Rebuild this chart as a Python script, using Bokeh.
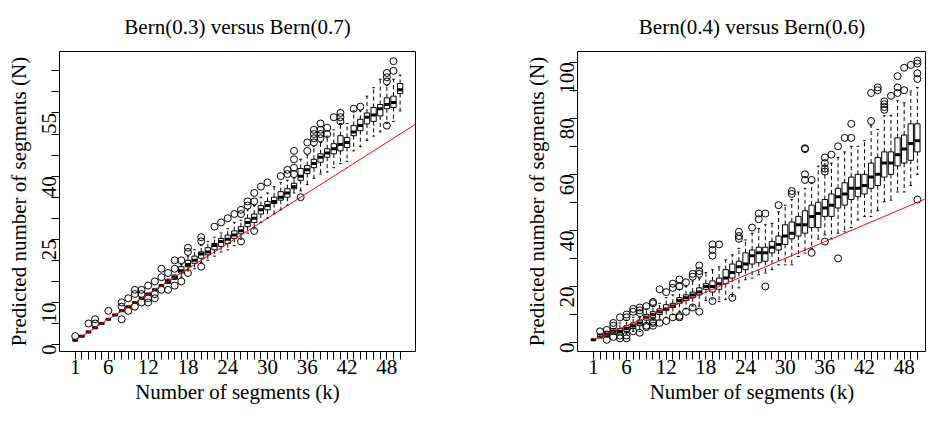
import math
import pandas as pd
from bokeh.plotting import figure
from bokeh.layouts import row
from bokeh.models import ColumnDataSource, FixedTicker, Range1d
from bokeh.transform import dodge
from bokeh.embed import file_html
from bokeh.resources import INLINE

# ---------------- data ----------------
k_values = list(range(1, 51))

# Panel 1: Bern(0.3) versus Bern(0.7)
left_title = "Bern(0.3) versus Bern(0.7)"
left_med = [1, 2, 3, 4, 5, 6, 7, 8, 9, 10, 11, 12, 13, 14, 15, 16, 17.5, 19, 20, 21.5,
            22, 23.5, 24.5, 25, 26, 27, 29, 30, 32, 33, 34, 35, 36, 37.5, 40, 41.5, 43, 44.5, 45.5, 46.5,
            47.5, 48, 50.5, 52, 54, 54.5, 56, 57, 57.5, 60.5]
left_q1 = [1, 2, 3, 4, 5, 6, 7, 8, 9, 10, 11, 12, 13, 14, 14.5, 15.5, 17, 18.5, 19.3, 20.5,
           21.3, 22.5, 23.3, 24, 25.2, 26.3, 28, 29, 31, 32, 33.5, 34.3, 35, 37, 39, 40.6, 42, 43.3, 44.5, 45.3,
           46, 46.8, 49.6, 50.8, 52.4, 53, 54.3, 56, 56.3, 59.6]
left_q3 = [1, 2, 3, 4, 5, 6, 7, 8, 9, 10, 11, 12, 13, 14, 15.5, 16.5, 18.5, 20, 21, 22,
           23, 24, 25.2, 26, 27, 28, 30, 31, 33, 34, 35, 36.3, 37, 38.3, 41.8, 42.5, 44, 45.3, 46.5, 47.7,
           49.6, 49.2, 52, 53.5, 55, 56.3, 57, 58.6, 59, 62]
left_lo = [1, 2, 3, 4, 5, 6, 7, 8, 9, 10, 11, 12, 13, 14, 14.5, 15.5, 16, 17.5, 18, 19.5,
           20, 21, 22, 22.5, 23.5, 25, 26.5, 27.5, 29, 30, 31, 32, 33, 36, 36.5, 38, 39.5, 40.5, 41, 42,
           43, 43.5, 46, 47, 48.5, 49.5, 50.5, 52.5, 53, 55.5]
left_hi = [1, 2, 3, 4, 5, 6, 7, 8, 9, 10, 11, 12, 13, 14, 15.5, 16.5, 19, 21, 22.5, 23.5,
           24.5, 25.5, 26.5, 27.5, 29, 29.5, 32, 33, 35, 36, 37.5, 38.5, 39, 39.5, 44, 45, 47, 48, 49.5, 51,
           52.5, 52.5, 55.5, 55.5, 59, 61, 63, 61.5, 63, 64]
left_out = [[2], [], [5], [5, 6], [], [8], [], [6, 9, 10], [8, 11], [9, 12, 13],
            [10, 12, 13], [10, 11, 14], [11, 12, 15], [13, 16, 18], [13, 17], [14, 18, 20], [15, 20], [17, 22, 23], [], [18.5, 24.5, 25.5],
            [], [28], [29], [30], [31], [24.5, 31, 32], [33, 34], [27, 34, 36], [37.5], [38.5],
            [], [40], [40.5, 41.5], [40.5, 42, 44, 46], [35], [46, 48], [48, 49, 50, 51], [49, 50, 51, 52.5], [50, 51.5], [54],
            [53, 54, 55], [], [56], [56.5], [], [], [], [52, 62.5, 63.5, 64.5], [65, 67.3], []]
left_yticks = [0, 5, 10, 15, 20, 25, 30, 35, 40, 45, 50, 55, 60, 65]
left_ylabels = [0, 10, 25, 40, 55]

# Panel 2: Bern(0.4) versus Bern(0.6)
right_title = "Bern(0.4) versus Bern(0.6)"
right_med = [1, 2, 3, 4, 4, 5, 6, 7, 9, 10, 11, 12, 13, 15, 16, 17, 18, 20, 20, 21,
             23, 25, 27, 28, 31, 32, 32, 34, 35, 38, 39, 42, 42, 45, 46, 48, 49, 52, 53, 55,
             55, 56, 59, 60, 64, 64, 67, 69, 71, 72]
right_q1 = [1, 2, 2, 3, 3, 4, 5, 6, 8, 9, 10, 11.5, 12.5, 14, 15, 16, 17, 19, 18, 19,
            21, 23, 25, 26, 28, 28.5, 29, 32, 33, 35, 37, 38, 39, 41, 41, 45, 45, 48, 49, 51,
            52, 53, 55, 56, 59, 60, 63, 64, 65, 68]
right_q3 = [1, 3, 4, 5, 5, 6, 7, 8, 10, 11, 12, 13.5, 14, 16, 17, 18, 19.5, 21, 22, 23,
            26, 28, 29, 32, 33, 34, 34, 36, 38, 42, 43, 45, 47, 49, 50, 51, 53, 55, 57, 59,
            60, 60, 64, 66, 68, 68, 73, 74, 78, 78]
right_lo = [1, 2, 2, 3, 3, 3, 4, 4, 7, 8, 8, 9, 10, 11, 12, 13, 13, 15, 15.5, 14.6,
            15.3, 16.5, 19.5, 22.4, 23, 24.2, 24.8, 26, 27.7, 27.7, 27.7, 30.7, 31.9, 33.6, 36.9, 38.4, 37, 39, 39.5, 41,
            43.7, 45, 45, 47, 50.2, 50.8, 53.7, 53.7, 56, 60]
right_hi = [1, 3, 4, 5, 7, 8, 9, 9, 12, 13, 14, 16, 17, 19, 20, 22, 23, 25, 26, 27,
            29.5, 31.3, 33.6, 36.6, 39, 40.7, 42, 42.5, 46.6, 49, 51, 53.7, 55, 57, 62.9, 63.7, 64, 66, 68, 70,
            70, 72, 77.3, 76, 80.9, 81, 86.2, 85.5, 89.7, 91]
right_out = [[], [4], [1, 4.5], [2, 6, 7], [1.5, 2.5, 9], [1.5, 2.5, 9, 10], [4, 11, 12], [3.5, 10.5, 11.5, 12.5], [5.5, 6, 13], [6, 7, 7.5, 14, 14.5],
             [7, 19], [7.7, 18], [9, 19.5, 21], [9, 9.5, 20, 22.5], [11, 21.5], [12.5, 23.5, 24.5], [11, 24.5, 25.5, 27.5], [], [14.8, 31, 33, 35], [35],
             [], [16], [37, 38, 39.5], [], [41], [44, 46], [20, 46], [], [49], [],
             [53, 54], [], [58, 60, 69, 69.3], [32, 58], [], [36, 61, 62, 64, 66], [67], [30, 70], [73], [73, 78],
             [], [], [79, 89], [90, 91], [83, 84, 85, 86], [88], [89, 91, 95], [90, 98], [99], [51, 94, 96, 99.5, 100.5]]
right_yticks = [0, 10, 20, 30, 40, 50, 60, 70, 80, 90, 100]
right_ylabels = [0, 20, 40, 60, 80, 100]

x_labels = [1, 6, 12, 18, 24, 30, 36, 42, 48]
diag = [1, 60]  # reference line N = k

x_title = "Number of segments (k)"
y_title = "Predicted number of segments (N)"

FONT = "'Liberation Serif', 'Times New Roman', serif"
FS = "21px"


def panel(title, med, q1, q3, lo, hi, out, yticks, ylabels, xr, yr, width, mb_left, mb_right):
    p = figure(width=width, height=409, output_backend="svg", toolbar_location=None,
               x_range=Range1d(*xr), y_range=Range1d(*yr),
               min_border_left=mb_left, min_border_right=mb_right,
               min_border_top=49, min_border_bottom=58)
    p.background_fill_color = "white"
    p.border_fill_color = "white"
    p.outline_line_color = "black"
    p.outline_line_width = 1
    p.xgrid.visible = False
    p.ygrid.visible = False

    p.title.text = title
    p.title.align = "center"
    p.title.text_font = FONT
    p.title.text_font_size = FS
    p.title.text_font_style = "normal"
    p.title.text_color = "black"
    p.title.standoff = 25

    df = pd.DataFrame(dict(k=k_values, med=med, q1=q1, q3=q3, lo=lo, hi=hi))
    src = ColumnDataSource(df)

    # whiskers
    p.segment(x0="k", y0="q3", x1="k", y1="hi", source=src, line_color="black",
              line_dash="4 3", line_width=1)
    p.segment(x0="k", y0="q1", x1="k", y1="lo", source=src, line_color="black",
              line_dash="4 3", line_width=1)
    # staples
    p.segment(x0=dodge("k", -0.2), y0="hi", x1=dodge("k", 0.2), y1="hi", source=src,
              line_color="black", line_width=1)
    p.segment(x0=dodge("k", -0.2), y0="lo", x1=dodge("k", 0.2), y1="lo", source=src,
              line_color="black", line_width=1)
    # boxes
    p.vbar(x="k", width=0.8, top="q3", bottom="q1", source=src, fill_color="white",
           line_color="black", line_width=1)
    # medians
    p.segment(x0=dodge("k", -0.4), y0="med", x1=dodge("k", 0.4), y1="med", source=src,
              line_color="black", line_width=3)
    # outliers
    ox, oy = [], []
    for kk, vals in zip(k_values, out):
        for v in vals:
            ox.append(kk)
            oy.append(v)
    p.scatter(x=ox, y=oy, marker="circle", size=7, fill_color=None,
              line_color="black", line_width=1)
    # reference line N = k
    p.line(x=diag, y=diag, line_color="red", line_width=1)

    # axes
    xa = p.xaxis[0]
    xa.ticker = FixedTicker(ticks=k_values)
    xa.major_label_overrides = {kk: (str(kk) if kk in x_labels else "") for kk in k_values}
    ya = p.yaxis[0]
    ya.ticker = FixedTicker(ticks=yticks)
    ya.major_label_overrides = {t: (str(t) if t in ylabels else "") for t in yticks}
    ya.major_label_orientation = math.pi / 2
    for ax in (xa, ya):
        ax.axis_line_color = None
        ax.major_tick_in = 0
        ax.major_tick_out = 8
        ax.major_tick_line_color = "black"
        ax.minor_tick_line_color = None
        ax.major_label_text_font = FONT
        ax.major_label_text_font_size = FS
        ax.major_label_text_color = "black"
        ax.axis_label_text_font = FONT
        ax.axis_label_text_font_size = FS
        ax.axis_label_text_font_style = "normal"
        ax.axis_label_text_color = "black"
    xa.major_label_standoff = 0
    xa.axis_label_standoff = 3
    ya.major_label_standoff = 2
    ya.axis_label_standoff = 2
    xa.axis_label = x_title
    ya.axis_label = y_title
    return p


p1 = panel(left_title, left_med, left_q1, left_q3, left_lo, left_hi, left_out,
           left_yticks, left_ylabels, (-1.37, 52.32), (-1.65, 69.6), 462, 59, 47)
p2 = panel(right_title, right_med, right_q1, right_q3, right_lo, right_hi, right_out,
           right_yticks, right_ylabels, (-1.42, 51.38), (-3.19, 103.8), 464, 115, 0)

layout = row(p1, p2)
open("out.html", "w").write(file_html(layout, INLINE))
